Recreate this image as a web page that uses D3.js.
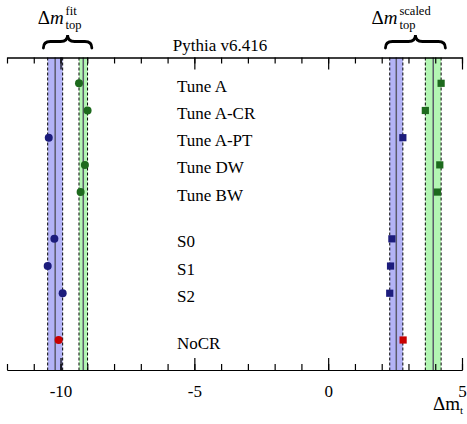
<!DOCTYPE html>
<html lang="en">
<head>
<meta charset="UTF-8">
<title>Pythia v6.416 top mass shifts</title>
<script src="https://d3js.org/d3.v7.min.js"></script>
<style>
  body{margin:0;background:#fff;}
  svg text{font-family:"Liberation Serif","Times New Roman",serif;fill:#000;}
</style>
</head>
<body>
<script>
// rows, top to bottom
const tunes = ["Tune A","Tune A-CR","Tune A-PT","Tune DW","Tune BW","S0","S1","S2","NoCR"]
const block = [0,0,0,0,0,1,1,1,2]          // rows are split in three blocks
const family = ["g","g","b","g","g","b","b","b","r"]
// shifts
const fitShift    = [-9.31,-8.99,-10.44,-9.09,-9.25,-10.23,-10.48,-9.92,-10.07]
const scaledShift = [4.22,3.63,2.79,4.17,4.08,2.38,2.33,2.30,2.80]
const majorTicks = [-10,-5,0,5]
const xDomain = [-12,5]

const W = 467, H = 424
const axisTop = 57.5, axisBot = 370

const svg = d3.select("body").append("svg")
    .attr("width",W).attr("height",H)
    .attr("viewBox",[0,0,W,H])

const x = d3.scaleLinear().domain(xDomain).range([7,462])
const gap = 0.72
const slot = i => i + block[i]*gap
const y = d3.scaleLinear().domain([0, slot(tunes.length-1)]).range([83.3,340])

const colour = d3.scaleOrdinal().domain(["b","g","r"]).range(["#1c1c7c","#1d6a1d","#c80000"])
const bandFill = d3.scaleOrdinal().domain(["b","g"]).range(["#b3b3f6","#b3f6b3"])

// bands = spread of the blue / green points in each column
const columns = [fitShift, scaledShift]
const bands = []
columns.forEach((vals,c)=>{
    ["b","g"].forEach(f=>{
        const ext = d3.extent(vals.filter((v,i)=>family[i]===f))
        bands.push({col:c, fam:f, lo:ext[0], hi:ext[1]})
    })
})

const bandG = svg.append("g")
bandG.selectAll("rect").data(bands).enter().append("rect")
    .attr("x",d=>x(d.lo)).attr("width",d=>x(d.hi)-x(d.lo))
    .attr("y",axisTop).attr("height",axisBot-axisTop)
    .attr("fill",d=>bandFill(d.fam))
bands.forEach(d=>{
    [d.lo,d.hi].forEach(v=>{
        bandG.append("line")
            .attr("x1",x(v)).attr("x2",x(v))
            .attr("y1",axisTop).attr("y2",axisBot)
            .attr("stroke","#000").attr("stroke-width",1)
            .attr("stroke-dasharray","3,2")
    })
    bandG.append("line")
        .attr("x1",x((d.lo+d.hi)/2)).attr("x2",x((d.lo+d.hi)/2))
        .attr("y1",axisTop).attr("y2",axisBot)
        .attr("stroke","#5a5a6a").attr("stroke-width",1.5)
})

// top axis ticks point down, bottom axis ticks point up
const minorTicks = d3.range(xDomain[0],xDomain[1]+1)
const topAx = svg.append("g").attr("transform",`translate(0,${axisTop})`)
topAx.call(d3.axisTop(x).tickValues(minorTicks).tickSizeInner(-6).tickSizeOuter(0).tickFormat(""))
topAx.append("g").call(d3.axisTop(x).tickValues(majorTicks).tickSizeInner(-12).tickSizeOuter(0).tickFormat(""))
const botAx = svg.append("g").attr("transform",`translate(0,${axisBot})`)
botAx.call(d3.axisBottom(x).tickValues(minorTicks).tickSizeInner(-6).tickSizeOuter(0).tickFormat(""))
botAx.append("g").call(d3.axisBottom(x).tickValues(majorTicks).tickSizeInner(-12).tickSizeOuter(0)
    .tickPadding(15).tickFormat(d=>String(d)))
svg.selectAll(".domain,.tick line").attr("stroke","#000").attr("stroke-width",1.2)
svg.selectAll("g").attr("font-family",null)
botAx.selectAll("text").attr("font-size",17).attr("fill","#000")

// row labels
svg.append("g").selectAll("text").data(tunes).enter().append("text")
    .attr("x",177).attr("y",(d,i)=>y(slot(i))+8.5)
    .attr("font-size",17)
    .text(d=>d)

// points: circles for the fit column, squares for the scaled column
svg.append("g").selectAll("circle").data(fitShift).enter().append("circle")
    .attr("cx",d=>x(d)).attr("cy",(d,i)=>y(slot(i))).attr("r",4)
    .attr("fill",(d,i)=>colour(family[i]))
svg.append("g").selectAll("rect").data(scaledShift).enter().append("rect")
    .attr("x",d=>x(d)-3.6).attr("y",(d,i)=>y(slot(i))-3.6)
    .attr("width",7.2).attr("height",7.2)
    .attr("fill",(d,i)=>colour(family[i]))

// title above the frame
svg.append("text").attr("x",220).attr("y",50.5).attr("text-anchor","middle")
    .attr("font-size",17).text("Pythia v6.416")

// axis label
const xl = svg.append("text").attr("x",463).attr("y",410).attr("text-anchor","end").attr("font-size",19)
xl.append("tspan").text("\u0394m")
xl.append("tspan").attr("font-size",11).attr("dy",4).text("t")

// overbraces with their labels
function brace(x0,x1,yb,yt){
    const xm=(x0+x1)/2, ym=yb-6.5, q=7
    return `M${x0},${yb} Q${x0},${ym} ${x0+q},${ym} L${xm-q},${ym} Q${xm},${ym} ${xm},${yt}`+
           ` Q${xm},${ym} ${xm+q},${ym} L${x1-q},${ym} Q${x1},${ym} ${x1},${yb}`
}
const braceLabels = [{sup:"fit", shift:4},{sup:"scaled", shift:18}]
columns.forEach((vals,c)=>{
    const ext = d3.extent(vals)
    const x0 = x(ext[0]-0.16), x1 = x(ext[1]+0.16), xm = (x0+x1)/2
    svg.append("path").attr("d",brace(x0,x1,48,35))
        .attr("fill","none").attr("stroke","#000").attr("stroke-width",2.8)
        .attr("stroke-linecap","round")
    const ax = xm - braceLabels[c].shift
    const t = svg.append("text").attr("x",ax).attr("y",24).attr("text-anchor","end").attr("font-size",19)
    t.append("tspan").text("\u0394")
    t.append("tspan").attr("font-style","italic").text("m")
    svg.append("text").attr("x",ax+2).attr("y",15).attr("font-size",12.5).text(braceLabels[c].sup)
    svg.append("text").attr("x",ax+2).attr("y",28.5).attr("font-size",12.5).text("top")
})
</script>
</body>
</html>
